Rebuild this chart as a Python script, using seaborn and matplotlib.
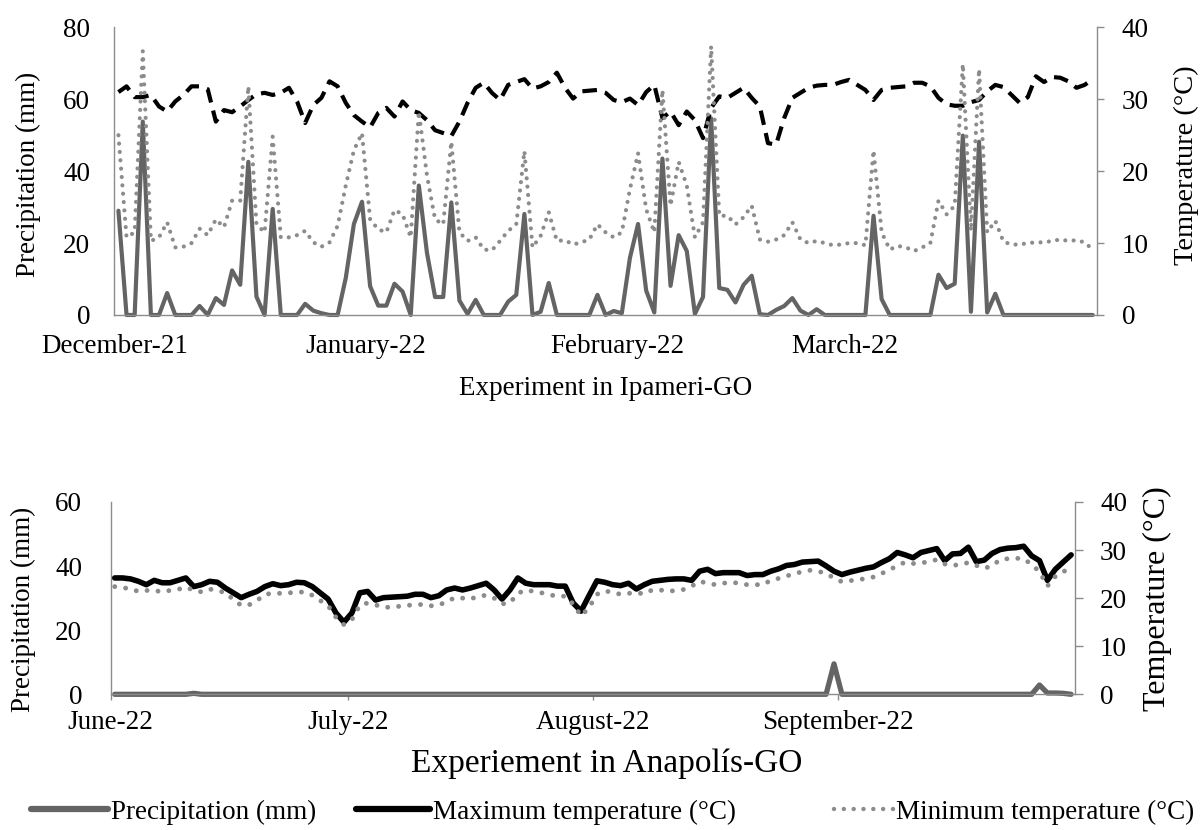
import numpy as np
import pandas as pd
import matplotlib
matplotlib.use("Agg")
import matplotlib.pyplot as plt
import seaborn as sns
from matplotlib.lines import Line2D

# ---------------- Ipameri-GO: 1 Dec 2021 - 31 Mar 2022 (daily) ----------------
ipameri_precip = [
    29.0, 0, 0, 53.8, 0, 0, 6.1, 0, 0, 0,
    2.5, 0, 4.7, 2.8, 12.4, 8.4, 42.6, 5.1, 0, 29.5,
    0, 0, 0, 3.1, 1.2, 0.5, 0, 0, 10.3, 25.3,
    31.5, 8.0, 2.6, 2.6, 8.7, 6.5, 0, 36.0, 17.3, 5.0,
    5.0, 31.3, 4.0, 0.3, 4.2, 0, 0, 0, 3.7, 5.6,
    28.1, 0, 0.9, 8.9, 0, 0, 0, 0, 0, 5.6,
    0, 1.1, 0.5, 15.9, 25.3, 6.8, 0.7, 43.5, 8.1, 22.2,
    17.8, 0.3, 5.0, 54.7, 7.5, 7.0, 3.5, 8.4, 10.9, 0.2,
    0, 1.4, 2.5, 4.7, 1.2, 0, 1.6, 0, 0, 0,
    0, 0, 0, 27.6, 4.4, 0, 0, 0, 0, 0,
    0, 11.2, 7.5, 8.7, 49.9, 0.9, 48.2, 0.7, 5.9, 0,
    0, 0, 0, 0, 0, 0, 0, 0, 0, 0, 0,
]
ipameri_tmax = [
    31.0, 31.8, 30.3, 30.3, 30.6, 29.0, 28.3, 29.7, 30.6, 31.8,
    31.8, 31.4, 26.9, 28.5, 28.2, 29.0, 29.9, 30.7, 30.9, 30.6,
    30.9, 31.6, 29.7, 26.7, 29.2, 30.2, 32.5, 31.8, 29.5, 27.8,
    26.9, 26.1, 28.1, 28.8, 27.6, 29.7, 28.5, 28.1, 27.1, 25.7,
    25.3, 24.9, 26.9, 29.5, 31.6, 32.3, 30.9, 29.9, 32.0, 32.4,
    32.8, 31.5, 31.8, 32.4, 33.7, 31.6, 30.1, 31.1, 31.2, 31.3,
    30.9, 29.9, 29.6, 30.1, 29.2, 31.0, 32.0, 27.4, 28.3, 26.4,
    28.3, 27.1, 24.6, 28.8, 30.4, 30.2, 30.9, 31.6, 30.2, 29.0,
    23.9, 23.7, 27.4, 30.2, 30.9, 31.6, 31.9, 32.0, 32.0, 32.4,
    32.7, 32.0, 31.3, 29.9, 31.3, 31.6, 31.7, 31.8, 32.3, 32.3,
    31.8, 30.2, 29.3, 29.1, 29.1, 29.6, 29.9, 31.1, 32.0, 31.7,
    30.6, 29.5, 30.3, 33.2, 32.4, 33.1, 33.0, 32.5, 31.6, 32.0, 32.8,
]
ipameri_tmin = [
    25.0, 10.8, 11.5, 36.7, 10.3, 10.8, 12.9, 9.4, 9.5, 10.0,
    12.0, 11.1, 13.3, 12.2, 15.9, 15.9, 31.8, 12.6, 11.5, 24.8,
    10.8, 10.8, 11.1, 11.7, 10.1, 9.5, 10.1, 12.4, 18.0, 22.9,
    25.3, 13.3, 11.9, 11.5, 14.6, 14.0, 10.8, 28.3, 19.4, 13.3,
    12.6, 24.1, 11.5, 10.3, 10.8, 9.1, 9.0, 10.3, 11.7, 12.6,
    22.8, 9.4, 11.0, 14.3, 10.3, 10.4, 9.8, 10.1, 10.5, 12.6,
    11.5, 10.8, 11.5, 17.5, 22.5, 14.7, 11.5, 31.3, 15.2, 21.3,
    18.0, 10.8, 12.9, 37.4, 13.8, 13.8, 12.6, 13.6, 15.2, 10.5,
    10.2, 10.5, 11.1, 12.9, 10.5, 10.0, 10.3, 10.0, 9.7, 9.8,
    10.0, 10.0, 9.7, 22.9, 11.5, 9.1, 9.6, 9.4, 8.9, 9.4,
    10.0, 15.9, 14.0, 15.2, 34.9, 11.7, 34.2, 11.5, 13.1, 10.2,
    9.8, 9.8, 10.0, 10.1, 10.1, 10.3, 10.5, 10.3, 10.4, 10.1, 9.1,
]
ipameri_months = ["December-21", "January-22", "February-22", "March-22"]
ipameri_month_start = [0, 31, 62, 90]

# ---------------- Anapolís-GO: 1 Jun 2022 - 30 Sep 2022 (daily) ----------------
anapolis_precip = [0] * 10 + [0.3] + [0] * 80 + [9.5] + [0] * 25 + [2.9, 0.4, 0.4, 0.3, 0]
anapolis_tmax = [
    24.2, 24.2, 24.0, 23.5, 22.8, 23.7, 23.2, 23.2, 23.7, 24.2,
    22.4, 22.8, 23.5, 23.3, 22.1, 21.1, 20.1, 20.8, 21.4, 22.4,
    23.0, 22.6, 22.8, 23.3, 23.2, 22.4, 21.1, 19.8, 16.9, 15.0,
    16.9, 21.1, 21.4, 19.6, 20.1, 20.2, 20.3, 20.4, 20.8, 20.8,
    20.1, 20.5, 21.7, 22.1, 21.7, 22.1, 22.6, 23.1, 21.7, 19.8,
    21.7, 24.2, 23.1, 22.8, 22.8, 22.8, 22.5, 22.5, 19.0, 17.3,
    20.5, 23.6, 23.3, 22.8, 22.6, 23.1, 21.9, 22.8, 23.5, 23.7,
    23.9, 24.0, 24.0, 23.7, 25.6, 26.0, 25.1, 25.3, 25.3, 25.3,
    24.7, 24.9, 24.9, 25.6, 26.1, 26.8, 27.0, 27.5, 27.6, 27.7,
    26.7, 25.6, 24.9, 25.4, 25.8, 26.2, 26.5, 27.4, 28.2, 29.5,
    29.0, 28.4, 29.5, 29.9, 30.3, 27.8, 29.2, 29.3, 30.6, 27.6,
    27.9, 29.3, 30.1, 30.4, 30.5, 30.8, 28.8, 27.8, 23.7, 26.0,
    27.5, 29.0,
]
anapolis_tmin = [
    22.4, 22.2, 21.9, 21.4, 21.6, 21.6, 21.3, 21.6, 21.8, 22.3,
    21.6, 21.3, 21.9, 21.5, 21.2, 19.7, 18.5, 18.6, 19.5, 20.8,
    21.0, 21.0, 21.1, 21.2, 21.3, 20.6, 19.5, 18.4, 16.0, 14.5,
    15.5, 18.5, 19.0, 18.6, 18.1, 18.1, 18.3, 18.5, 18.6, 18.7,
    18.4, 18.6, 19.2, 20.1, 20.0, 19.8, 20.4, 20.6, 20.0, 18.8,
    19.0, 21.0, 21.7, 21.4, 21.1, 20.7, 20.4, 20.4, 18.8, 16.3,
    18.0, 20.8, 21.5, 21.2, 20.8, 21.0, 21.1, 20.9, 21.7, 21.7,
    21.4, 21.6, 21.8, 22.5, 23.5, 23.1, 22.8, 23.1, 23.3, 23.1,
    22.8, 22.8, 22.8, 23.7, 24.1, 24.6, 25.1, 25.5, 25.8, 25.6,
    25.1, 24.2, 23.4, 23.6, 23.9, 24.0, 24.4, 25.1, 25.9, 26.7,
    27.5, 27.2, 27.3, 27.6, 28.0, 27.1, 26.8, 27.0, 27.4, 26.8,
    26.2, 26.7, 28.0, 28.2, 28.3, 28.2, 27.0, 25.5, 22.5, 24.5,
    25.5, 26.3,
]
anapolis_months = ["June-22", "July-22", "August-22", "September-22"]
anapolis_month_start = [0, 30, 61, 92]

precip_label = "Precipitation (mm)"
tmax_label = "Maximum temperature (°C)"
tmin_label = "Minimum temperature (°C)"

# ---------------- styling ----------------
sns.set_theme(style="white")
plt.rcParams["font.family"] = ["Liberation Serif", "DejaVu Serif"]
plt.rcParams["text.color"] = "black"
plt.rcParams["axes.labelcolor"] = "black"
plt.rcParams["xtick.color"] = "black"
plt.rcParams["ytick.color"] = "black"

PRECIP_C = "#646464"
TMIN_C = "#8c8c8c"
SPINE_C = "#8c8c8c"
FS = 19.5

top_df = pd.DataFrame({
    "day": np.arange(len(ipameri_precip)) + 0.5,
    "precip": ipameri_precip, "tmax": ipameri_tmax, "tmin": ipameri_tmin,
})
bot_df = pd.DataFrame({
    "day": np.arange(len(anapolis_precip)) + 0.5,
    "precip": anapolis_precip, "tmax": anapolis_tmax, "tmin": anapolis_tmin,
})

fig = plt.figure(figsize=(12, 8.3), dpi=100)
fig.patch.set_facecolor("white")


def style_axes(ax, axr, n_days, month_start, months, xtick_len, xpad,
               lpad, rpad, rtick_len):
    ax.set_xlim(0, n_days)
    ax.set_xticks(month_start)
    ax.set_xticklabels(months)
    for s in ["top", "right"]:
        ax.spines[s].set_visible(False)
    for s in ["left", "bottom"]:
        ax.spines[s].set_color(SPINE_C)
        ax.spines[s].set_linewidth(1.0)
    for s in ["top", "left", "bottom"]:
        axr.spines[s].set_visible(False)
    axr.spines["right"].set_color(SPINE_C)
    axr.spines["right"].set_linewidth(1.0)
    ax.tick_params(axis="x", length=xtick_len, width=1.0, color=SPINE_C,
                   direction="out", pad=xpad, labelsize=FS, bottom=True)
    ax.tick_params(axis="y", length=0, pad=lpad, labelsize=FS, left=True)
    axr.tick_params(axis="y", length=rtick_len, width=1.0, color=SPINE_C,
                    direction="out", pad=rpad, labelsize=FS, right=True)
    ax.grid(False)
    axr.grid(False)


# ---------------- top panel ----------------
ax1 = fig.add_axes([0.0953, 0.6205, 0.8187, 0.3465])
ax1r = ax1.twinx()
sns.lineplot(data=top_df, x="day", y="precip", ax=ax1, color=PRECIP_C,
             linewidth=3.0, legend=False, clip_on=False)
sns.lineplot(data=top_df, x="day", y="tmax", ax=ax1r, color="black",
             linewidth=3.0, linestyle=(0, (3.5, 2.0)), dash_capstyle="butt",
             legend=False)
sns.lineplot(data=top_df, x="day", y="tmin", ax=ax1r, color=TMIN_C,
             linewidth=3.0, linestyle=(0, (0.01, 2.0)), dash_capstyle="round",
             legend=False)
ax1.set_ylim(0, 80)
ax1.set_yticks([0, 20, 40, 60, 80])
ax1r.set_ylim(0, 40)
ax1r.set_yticks([0, 10, 20, 30, 40])
style_axes(ax1, ax1r, len(ipameri_precip), ipameri_month_start, ipameri_months,
           xtick_len=0, xpad=14, lpad=17.5, rpad=13, rtick_len=5)
ax1.set_ylabel(precip_label, fontsize=FS, va="center")
ax1.yaxis.set_label_coords(-0.0878, 0.49)
ax1r.set_ylabel("Temperature (°C)", fontsize=20.5, va="center")
ax1r.yaxis.set_label_coords(1.0909, 0.52)
ax1.set_xlabel("Experiment in Ipameri-GO", fontsize=FS, va="center")
ax1.xaxis.set_label_coords(0.5, -0.255)

# ---------------- bottom panel ----------------
ax2 = fig.add_axes([0.0923, 0.1635, 0.8036, 0.2317])
ax2r = ax2.twinx()
sns.lineplot(data=bot_df, x="day", y="precip", ax=ax2, color=PRECIP_C,
             linewidth=3.8, legend=False, clip_on=False)
sns.lineplot(data=bot_df, x="day", y="tmax", ax=ax2r, color="black",
             linewidth=4.0, legend=False)
sns.lineplot(data=bot_df, x="day", y="tmin", ax=ax2r, color=TMIN_C,
             linewidth=3.5, linestyle=(0, (0.01, 2.25)), dash_capstyle="round",
             legend=False)
ax2.set_ylim(0, 60)
ax2.set_yticks([0, 20, 40, 60])
ax2r.set_ylim(0, 40)
ax2r.set_yticks([0, 10, 20, 30, 40])
style_axes(ax2, ax2r, len(anapolis_precip), anapolis_month_start, anapolis_months,
           xtick_len=4, xpad=7.5, lpad=20.5, rpad=12, rtick_len=6)
ax2.set_ylabel(precip_label, fontsize=FS, va="center")
ax2.yaxis.set_label_coords(-0.091, 0.44)
ax2r.set_ylabel("Temperature (°C)", fontsize=23, va="center")
ax2r.yaxis.set_label_coords(1.0852, 0.5)
ax2.set_xlabel("Experiement in Anapolís-GO", fontsize=24, va="center")
ax2.xaxis.set_label_coords(0.514, -0.36)

# ---------------- legend ----------------
legend_items = [
    (Line2D([], [], color=PRECIP_C, linewidth=4.5), precip_label, 31, 2.85),
    (Line2D([], [], color="black", linewidth=4.5), tmax_label, 356, 2.75),
    (Line2D([], [], color=TMIN_C, linewidth=3.2, linestyle=(0, (0.01, 2.2)),
            dash_capstyle="round"), tmin_label, 834, 2.2),
]
for handle, text, x0, hl in legend_items:
    fig.legend(handles=[handle], labels=[text], loc="center left",
               bbox_to_anchor=(x0 / 1200, 1 - 812 / 830), frameon=False,
               borderpad=0, borderaxespad=0, handlelength=hl,
               handletextpad=0.1, fontsize=FS)

fig.savefig("out.png", dpi=100, facecolor="white")
